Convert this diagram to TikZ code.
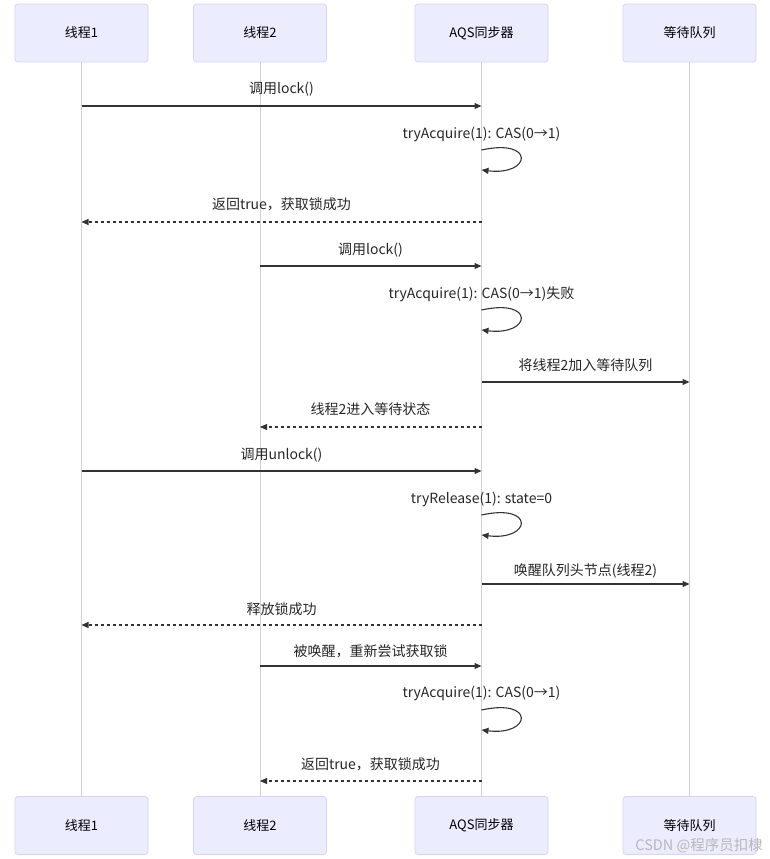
\documentclass[tikz,border=0pt]{standalone}
\usepackage{fontspec}
\setmainfont{Noto Sans CJK SC}
\usetikzlibrary{arrows.meta}
\definecolor{actfill}{HTML}{ECECFF}
\definecolor{actdraw}{HTML}{D9D2F5}
\definecolor{life}{HTML}{D0D0D0}
\definecolor{msg}{HTML}{333333}
\definecolor{wm}{HTML}{B8B8B8}
\begin{document}
\begin{tikzpicture}[x=1pt,y=-1pt,
  actor/.style={draw=actdraw, fill=actfill, rounded corners=3pt, minimum width=133pt, minimum height=58pt, line width=0.8pt, inner sep=0pt, font=\fontsize{13}{15}\selectfont},
  lifeline/.style={draw=life, line width=1pt},
  msgline/.style={draw=msg, line width=1.1pt, -{Triangle[length=7pt,width=6pt]}},
  reply/.style={msgline, dash pattern=on 3pt off 3pt},
  lbl/.style={font=\fontsize{14}{16}\selectfont, text=black!85, inner sep=0pt, anchor=base}]
\useasboundingbox (0,0) rectangle (769,859);
% actors
\node[actor] (t1) at (81.5,33) {线程1};
\node[actor] (t2) at (260,33) {线程2};
\node[actor] (t3) at (481.5,33) {AQS同步器};
\node[actor] (t4) at (689.5,33) {等待队列};
\node[actor] (b1) at (81.5,825.5) {线程1};
\node[actor] (b2) at (260,825.5) {线程2};
\node[actor] (b3) at (481.5,825.5) {AQS同步器};
\node[actor] (b4) at (689.5,825.5) {等待队列};
% lifelines
\draw[lifeline] (t1) -- (b1);
\draw[lifeline] (t2) -- (b2);
\draw[lifeline] (t3) -- (b3);
\draw[lifeline] (t4) -- (b4);
% message rows
\coordinate (y1) at (0,106);
\coordinate (y2) at (0,150);
\coordinate (y2e) at (0,170);
\coordinate (y3) at (0,222);
\coordinate (y4) at (0,266);
\coordinate (y5) at (0,310);
\coordinate (y5e) at (0,330);
\coordinate (y6) at (0,382);
\coordinate (y7) at (0,427);
\coordinate (y8) at (0,471);
\coordinate (y9) at (0,515);
\coordinate (y9e) at (0,535);
\coordinate (y10) at (0,584);
\coordinate (y11) at (0,625);
\coordinate (y12) at (0,666);
\coordinate (y13) at (0,710);
\coordinate (y13e) at (0,730);
\coordinate (y14) at (0,781);
% 1
\draw[msgline] (t1 |- y1) -- (t3 |- y1);
\node[lbl] (l1) at (281.5,93.5) {调用lock()};
% 2
\draw[msgline] (t3 |- y2) .. controls +(54,-12) and +(50,6) .. (t3 |- y2e);
\node[lbl] (l2) at (481.5,138.5) {tryAcquire(1): CAS(0→1)};
% 3
\draw[reply] (t3 |- y3) -- (t1 |- y3);
\node[lbl] (l3) at (281.5,209.5) {返回true，获取锁成功};
% 4
\draw[msgline] (t2 |- y4) -- (t3 |- y4);
\node[lbl] (l4) at (370.5,254.5) {调用lock()};
% 5
\draw[msgline] (t3 |- y5) .. controls +(54,-12) and +(50,6) .. (t3 |- y5e);
\node[lbl] (l5) at (481.5,298.5) {tryAcquire(1): CAS(0→1)失败};
% 6
\draw[msgline] (t3 |- y6) -- (t4 |- y6);
\node[lbl] (l6) at (585.5,370.5) {将线程2加入等待队列};
% 7
\draw[reply] (t3 |- y7) -- (t2 |- y7);
\node[lbl] (l7) at (370.5,414.5) {线程2进入等待状态};
% 8
\draw[msgline] (t1 |- y8) -- (t3 |- y8);
\node[lbl] (l8) at (281.5,459.5) {调用unlock()};
% 9
\draw[msgline] (t3 |- y9) .. controls +(54,-12) and +(50,6) .. (t3 |- y9e);
\node[lbl] (l9) at (481.5,503.5) {tryRelease(1): state=0};
% 10
\draw[msgline] (t3 |- y10) -- (t4 |- y10);
\node[lbl] (l10) at (585.5,575.5) {唤醒队列头节点(线程2)};
% 11
\draw[reply] (t3 |- y11) -- (t1 |- y11);
\node[lbl] (l11) at (281.5,614.5) {释放锁成功};
% 12
\draw[msgline] (t2 |- y12) -- (t3 |- y12);
\node[lbl] (l12) at (370.5,656.5) {被唤醒，重新尝试获取锁};
% 13
\draw[msgline] (t3 |- y13) .. controls +(54,-12) and +(50,6) .. (t3 |- y13e);
\node[lbl] (l13) at (481.5,697.5) {tryAcquire(1): CAS(0→1)};
% 14
\draw[reply] (t3 |- y14) -- (t2 |- y14);
\node[lbl] (l14) at (370.5,769.5) {返回true，获取锁成功};
% watermark
\node[font=\fontsize{14.5}{16}\selectfont, text=wm, inner sep=0pt, anchor=base east] (wmk) at (763,850.5) {CSDN @程序员扣棣};
\end{tikzpicture}
\end{document}
